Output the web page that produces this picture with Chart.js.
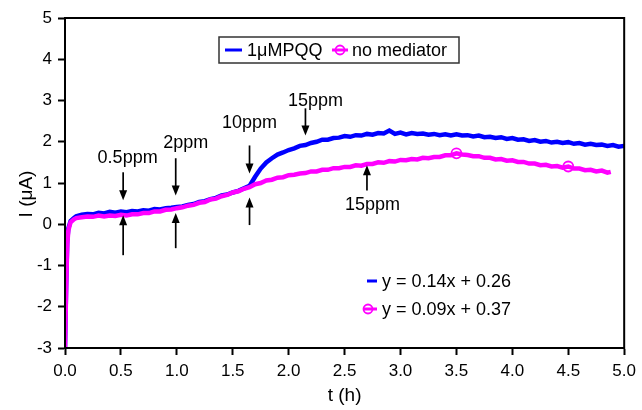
<!DOCTYPE html>
<html>
<head>
<meta charset="utf-8">
<script src="https://cdn.jsdelivr.net/npm/chart.js@4.4.1/dist/chart.umd.min.js"></script>
<style>
  html, body { margin: 0; padding: 0; background: #fff; }
</style>
</head>
<body>
<canvas id="chart" width="642" height="410"></canvas>
<script>
// 1 uM PQQ trace
var pqqTime = [0, 0.01, 0.02, 0.03, 0.05, 0.08, 0.1,
  0.15, 0.2, 0.25, 0.3, 0.35, 0.4, 0.45, 0.5, 0.55, 0.6, 0.65, 0.7, 0.75, 0.8, 0.85, 0.9, 0.95, 1.0,
  1.05, 1.1, 1.15, 1.2, 1.25, 1.3, 1.35, 1.4, 1.45, 1.5, 1.55, 1.6, 1.65, 1.7, 1.75, 1.8, 1.85, 1.9, 1.95, 2.0,
  2.05, 2.1, 2.15, 2.2, 2.25, 2.3, 2.35, 2.4, 2.45, 2.5, 2.55, 2.6, 2.65, 2.7, 2.75, 2.8, 2.85, 2.9, 2.95, 3.0,
  3.05, 3.1, 3.15, 3.2, 3.25, 3.3, 3.35, 3.4, 3.45, 3.5, 3.55, 3.6, 3.65, 3.7, 3.75, 3.8, 3.85, 3.9, 3.95, 4.0,
  4.05, 4.1, 4.15, 4.2, 4.25, 4.3, 4.35, 4.4, 4.45, 4.5, 4.55, 4.6, 4.65, 4.7, 4.75, 4.8, 4.85, 4.9, 4.95, 5.0];
var pqqCurrent = [-3.0, -1.5, -0.4, -0.1, 0.08, 0.15, 0.19,
  0.23, 0.25, 0.24, 0.28, 0.26, 0.3, 0.28, 0.31, 0.29, 0.32, 0.31, 0.34, 0.33, 0.37, 0.36, 0.39, 0.4, 0.42,
  0.43, 0.47, 0.49, 0.54, 0.56, 0.61, 0.64, 0.7, 0.72, 0.77, 0.81, 0.87, 0.93, 1.15, 1.35, 1.5, 1.6, 1.69, 1.74, 1.8,
  1.84, 1.9, 1.92, 1.97, 2.0, 2.05, 2.05, 2.09, 2.1, 2.14, 2.12, 2.16, 2.15, 2.19, 2.17, 2.21, 2.2, 2.27, 2.19, 2.22,
  2.18, 2.21, 2.19, 2.2, 2.17, 2.19, 2.16, 2.18, 2.15, 2.18, 2.15, 2.16, 2.13, 2.15, 2.11, 2.12, 2.09, 2.11, 2.07, 2.09,
  2.05, 2.06, 2.02, 2.04, 2.0, 2.02, 1.98, 2.0, 1.97, 1.99, 1.95, 1.97, 1.93, 1.95, 1.92, 1.93, 1.9, 1.92, 1.88, 1.9];

// no mediator trace
var noMedTime = [0, 0.01, 0.02, 0.03, 0.05, 0.08, 0.1,
  0.15, 0.2, 0.25, 0.3, 0.35, 0.4, 0.45, 0.5, 0.55, 0.6, 0.65, 0.7, 0.75, 0.8, 0.85, 0.9, 0.95, 1.0,
  1.05, 1.1, 1.15, 1.2, 1.25, 1.3, 1.35, 1.4, 1.45, 1.5, 1.55, 1.6, 1.65, 1.7, 1.75, 1.8, 1.85, 1.9, 1.95, 2.0,
  2.05, 2.1, 2.15, 2.2, 2.25, 2.3, 2.35, 2.4, 2.45, 2.5, 2.55, 2.6, 2.65, 2.7, 2.75, 2.8, 2.85, 2.9, 2.95, 3.0,
  3.05, 3.1, 3.15, 3.2, 3.25, 3.3, 3.35, 3.4, 3.45, 3.5, 3.55, 3.6, 3.65, 3.7, 3.75, 3.8, 3.85, 3.9, 3.95, 4.0,
  4.05, 4.1, 4.15, 4.2, 4.25, 4.3, 4.35, 4.4, 4.45, 4.5, 4.55, 4.6, 4.65, 4.7, 4.75, 4.8, 4.85, 4.88];
var noMedCurrent = [-3.0, -1.6, -0.5, -0.15, 0.05, 0.12, 0.15,
  0.17, 0.19, 0.18, 0.21, 0.19, 0.21, 0.2, 0.23, 0.21, 0.24, 0.24, 0.27, 0.27, 0.31, 0.31, 0.35, 0.36, 0.39,
  0.41, 0.45, 0.47, 0.52, 0.54, 0.6, 0.62, 0.68, 0.71, 0.77, 0.8, 0.86, 0.9, 0.97, 1.0, 1.06, 1.08, 1.13, 1.14, 1.19,
  1.2, 1.23, 1.24, 1.28, 1.28, 1.32, 1.32, 1.36, 1.36, 1.39, 1.39, 1.43, 1.42, 1.46, 1.46, 1.5, 1.49, 1.53, 1.52, 1.56,
  1.55, 1.58, 1.57, 1.61, 1.6, 1.63, 1.63, 1.67, 1.67, 1.72, 1.69, 1.68, 1.65, 1.65, 1.61, 1.61, 1.57, 1.58, 1.54, 1.55,
  1.51, 1.51, 1.47, 1.47, 1.43, 1.44, 1.4, 1.41, 1.37, 1.4, 1.35, 1.35, 1.31, 1.32, 1.28, 1.3, 1.25, 1.27];
var noMedMarkers = [3.5, 4.5];

// concentration annotations
var addLabels = ["0.5ppm", "2ppm", "10ppm", "15ppm", "15ppm"];
var addLabelT = [0.56, 1.08, 1.65, 2.24, 2.75];
var addLabelI = [1.6, 1.96, 2.45, 2.98, 0.46];
var arrowT = [0.52, 0.99, 1.65, 2.15, 0.52, 0.99, 1.65, 2.7];
var arrowFrom = [1.26, 1.6, 1.91, 2.81, -0.75, -0.58, -0.02, 0.82];
var arrowTo = [0.58, 0.7, 1.23, 2.15, 0.22, 0.27, 0.65, 1.43];

var seriesNames = ["1\u03bcMPQQ", "no mediator"];
var fitLabels = ["y = 0.14x + 0.26", "y = 0.09x + 0.37"];
var BLUE = "#0000ff", PINK = "#ff00ff";
var FONT = "'Liberation Sans', Arial, sans-serif";

function toPoints(xs, ys) {
  return xs.map(function (t, i) { return {x: t, y: ys[i]}; });
}

function drawArrow(ctx, px, y0, y1) {
  var dir = y1 > y0 ? 1 : -1;
  ctx.beginPath();
  ctx.moveTo(px, y0);
  ctx.lineTo(px, y1 - dir * 8);
  ctx.stroke();
  ctx.beginPath();
  ctx.moveTo(px, y1);
  ctx.lineTo(px - 4, y1 - dir * 10);
  ctx.lineTo(px + 4, y1 - dir * 10);
  ctx.closePath();
  ctx.fill();
}

function lineSample(ctx, x0, x1, y, color, circleX) {
  ctx.strokeStyle = color;
  ctx.lineWidth = 3;
  ctx.beginPath();
  ctx.moveTo(x0, y);
  ctx.lineTo(x1, y);
  ctx.stroke();
  if (circleX !== undefined) {
    ctx.lineWidth = 1.8;
    ctx.beginPath();
    ctx.arc(circleX, y, 4.5, 0, Math.PI * 2);
    ctx.stroke();
  }
}

var overlay = {
  id: 'overlay',
  afterDraw: function (chart) {
    var ctx = chart.ctx, sx = chart.scales.x, sy = chart.scales.y, a = chart.chartArea;
    ctx.save();

    // frame
    ctx.strokeStyle = '#000';
    ctx.lineWidth = 2;
    ctx.strokeRect(a.left, a.top, a.right - a.left, a.bottom - a.top);

    // arrows + ppm labels
    ctx.lineWidth = 1.7;
    ctx.fillStyle = '#000';
    for (var i = 0; i < arrowT.length; i++) {
      drawArrow(ctx, sx.getPixelForValue(arrowT[i]), sy.getPixelForValue(arrowFrom[i]), sy.getPixelForValue(arrowTo[i]));
    }
    ctx.font = "18px " + FONT;
    ctx.textAlign = 'center';
    ctx.textBaseline = 'middle';
    for (var j = 0; j < addLabels.length; j++) {
      ctx.fillText(addLabels[j], sx.getPixelForValue(addLabelT[j]), sy.getPixelForValue(addLabelI[j]));
    }

    // top legend box
    var lx = a.left + 154, ly = a.top + 19;
    ctx.strokeStyle = '#333';
    ctx.lineWidth = 1.5;
    ctx.strokeRect(lx, ly, 240, 26);
    var my = ly + 13;
    lineSample(ctx, lx + 6, lx + 23, my, BLUE);
    lineSample(ctx, lx + 113, lx + 129, my, PINK, lx + 121);
    ctx.fillStyle = '#000';
    ctx.textAlign = 'left';
    ctx.fillText(seriesNames[0], lx + 28, my + 1);
    ctx.fillText(seriesNames[1], lx + 133, my + 1);

    // fit legend
    var fx = a.left + 298, fy = a.top + 263;
    lineSample(ctx, fx + 4, fx + 14, fy, BLUE);
    lineSample(ctx, fx, fx + 14, fy + 28, PINK, fx + 5);
    ctx.fillStyle = '#000';
    ctx.fillText(fitLabels[0], fx + 19, fy + 1);
    ctx.fillText(fitLabels[1], fx + 19, fy + 29);

    // axis titles
    ctx.font = "19px " + FONT;
    ctx.textAlign = 'center';
    ctx.fillText("t (h)", (a.left + a.right) / 2, 396);
    ctx.translate(27, (a.top + a.bottom) / 2 + 11);
    ctx.rotate(-Math.PI / 2);
    ctx.fillText("I (\u03bcA)", 0, 0);
    ctx.restore();
  }
};

var ctx = document.getElementById("chart").getContext("2d");
var myChart = new Chart(ctx, {
  type: "line",
  data: {
    datasets: [{
        label: seriesNames[0],
        data: toPoints(pqqTime, pqqCurrent),
        borderColor: BLUE,
        borderWidth: 4.5,
        pointRadius: 0,
        tension: 0,
        order: 2
      },
      {
        label: seriesNames[1],
        data: toPoints(noMedTime, noMedCurrent),
        borderColor: PINK,
        borderWidth: 4.5,
        pointRadius: function (c) {
          return noMedMarkers.indexOf(noMedTime[c.dataIndex]) >= 0 ? 5 : 0;
        },
        pointBorderColor: PINK,
        pointBorderWidth: 1.8,
        pointBackgroundColor: 'rgba(0,0,0,0)',
        tension: 0,
        order: 1
      }
    ]
  },
  options: {
    responsive: false,
    animation: false,
    events: [],
    layout: {padding: {left: 0, top: 18, right: 15, bottom: 0}},
    plugins: {legend: {display: false}, tooltip: {enabled: false}},
    scales: {
      x: {
        type: 'linear',
        min: 0,
        max: 5,
        afterFit: function (s) { s.height = 62; },
        ticks: {
          stepSize: 0.5,
          padding: 6,
          color: '#000',
          font: {family: FONT, size: 17},
          maxRotation: 0,
          callback: function (v) { return v.toFixed(1); }
        },
        grid: {drawOnChartArea: false, tickLength: 7, tickWidth: 2, tickColor: '#000'},
        border: {color: '#000', width: 2}
      },
      y: {
        min: -3,
        max: 5,
        afterFit: function (s) { s.width = 65; },
        ticks: {
          stepSize: 1,
          padding: 6,
          color: '#000',
          font: {family: FONT, size: 17}
        },
        grid: {drawOnChartArea: false, tickLength: 7, tickWidth: 2, tickColor: '#000'},
        border: {color: '#000', width: 2}
      }
    }
  },
  plugins: [overlay]
});
</script>
</body>
</html>
